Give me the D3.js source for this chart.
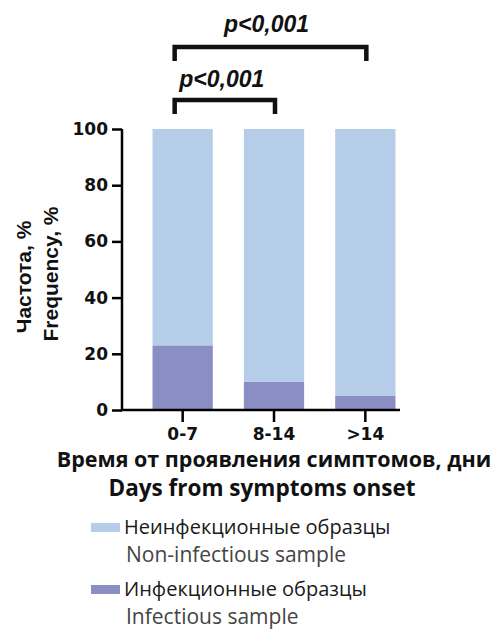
<!DOCTYPE html>
<html>
<head>
<meta charset="utf-8">
<script src="https://cdn.jsdelivr.net/npm/d3@7"></script>
<style>
  body { margin: 0; background: #fff; }
  svg { display: block; }
</style>
</head>
<body>
<div id="chart"></div>
<script>
// Data
const categories = ['0-7', '8-14', '>14'];
const infectious = [23, 10, 5];
const nonInfectious = [77, 90, 95];
const yTicks = [0, 20, 40, 60, 80, 100];
const seriesNames = [
    ['Неинфекционные образцы', 'Non-infectious sample'],
    ['Инфекционные образцы', 'Infectious sample']
];
const colors = ['#b5cde8', '#8a8ec3'];
const comparisons = [
    { from: 0, to: 2, label: 'p<0,001' },
    { from: 0, to: 1, label: 'p<0,001' }
];

const width = 498, height = 631;

const svg = d3.select('#chart')
    .append('svg')
    .attr('width', width)
    .attr('height', height);

// Scales
const x = d3.scaleBand()
    .domain(categories)
    .range([137, 411])
    .paddingInner(0.34)
    .paddingOuter(0.17);

const y = d3.scaleLinear()
    .domain([0, 100])
    .range([410, 129]);

const tickFont = 'DejaVu Sans, sans-serif';

// Stacked bars
const rows = categories.map((c, i) => ({ cat: c, inf: infectious[i], non: nonInfectious[i] }));
const stack = d3.stack().keys(['inf', 'non'])(rows);

svg.append('g')
    .selectAll('g')
    .data(stack)
    .join('g')
    .attr('fill', (d, i) => colors[1 - i])
    .selectAll('rect')
    .data(d => d)
    .join('rect')
    .attr('x', d => x(d.data.cat))
    .attr('y', d => y(d[1]))
    .attr('width', x.bandwidth())
    .attr('height', d => y(d[0]) - y(d[1]));

// Y axis
const yAxis = svg.append('g')
    .attr('transform', 'translate(122,0)')
    .call(d3.axisLeft(y).tickValues(yTicks).tickSize(10).tickPadding(4));
yAxis.select('.domain').attr('stroke-width', 2.5).attr('d', 'M0,129V411');
yAxis.selectAll('.tick line').attr('stroke-width', 2.5);
yAxis.selectAll('text')
    .attr('font-family', tickFont)
    .attr('font-weight', 'bold')
    .attr('font-size', 17)
    .attr('fill', '#111');

// X axis
const xAxis = svg.append('g')
    .attr('transform', 'translate(0,410)')
    .call(d3.axisBottom(x).tickSize(12).tickPadding(6).tickSizeOuter(0));
xAxis.select('.domain').attr('stroke-width', 2.5).attr('d', 'M121,0H400');
xAxis.selectAll('.tick line').attr('stroke-width', 2.5);
xAxis.selectAll('text')
    .attr('dy', null)
    .attr('y', 30)
    .attr('font-family', tickFont)
    .attr('font-weight', 'bold')
    .attr('font-size', 17)
    .attr('fill', '#111');

// Axis titles
[['Частота, %', 31, 277], ['Frequency, %', 58, 274]].forEach(([t, bx, cy]) => {
    svg.append('text')
        .attr('transform', `translate(${bx},${cy}) rotate(-90)`)
        .attr('text-anchor', 'middle')
        .attr('font-family', 'Liberation Sans, Arial, sans-serif')
        .attr('font-weight', 'bold')
        .attr('font-size', 21)
        .attr('fill', '#111')
        .text(t);
});

svg.append('text')
    .attr('x', 274).attr('y', 467)
    .attr('text-anchor', 'middle')
    .attr('font-family', 'Open Sans, sans-serif')
    .attr('font-weight', 'bold')
    .attr('font-size', 21.5)
    .attr('fill', '#111')
    .text('Время от проявления симптомов, дни');
svg.append('text')
    .attr('x', 262).attr('y', 496)
    .attr('text-anchor', 'middle')
    .attr('font-family', 'Open Sans, sans-serif')
    .attr('font-weight', 'bold')
    .attr('font-size', 22.5)
    .attr('fill', '#111')
    .text('Days from symptoms onset');

// Significance brackets
const bracketY = [47, 100];
const labelY = [32, 87];
comparisons.forEach((c, i) => {
    const x1 = x(categories[c.from]) + x.bandwidth() / 2 - 8;
    const x2 = x(categories[c.to]) + x.bandwidth() / 2 + 1;
    svg.append('path')
        .attr('d', `M${x1},${bracketY[i] + 14}V${bracketY[i]}H${x2}V${bracketY[i] + 14}`)
        .attr('fill', 'none')
        .attr('stroke', '#111')
        .attr('stroke-width', 4.5);
    svg.append('text')
        .attr('x', i === 0 ? (x1 + x2) / 2 - 4 : (x1 + x2) / 2 - 3)
        .attr('y', labelY[i])
        .attr('text-anchor', 'middle')
        .attr('font-family', 'Liberation Sans, Arial, sans-serif')
        .attr('font-weight', 'bold')
        .attr('font-style', 'italic')
        .attr('font-size', 23)
        .attr('fill', '#111')
        .text(c.label);
});

// Legend
const legend = svg.append('g');
seriesNames.forEach((names, i) => {
    const top = 523 + i * 62;
    legend.append('rect')
        .attr('x', 91).attr('y', top)
        .attr('width', 29).attr('height', 9)
        .attr('fill', colors[i]);
    legend.append('text')
        .attr('x', 124).attr('y', top + 11)
        .attr('font-family', 'Open Sans, sans-serif')
        .attr('font-size', 20)
        .attr('fill', '#1a1a1a')
        .text(names[0]);
    legend.append('text')
        .attr('x', 126).attr('y', top + 39)
        .attr('font-family', 'Open Sans, sans-serif')
        .attr('font-size', 21)
        .attr('fill', '#444')
        .text(names[1]);
});
</script>
</body>
</html>
